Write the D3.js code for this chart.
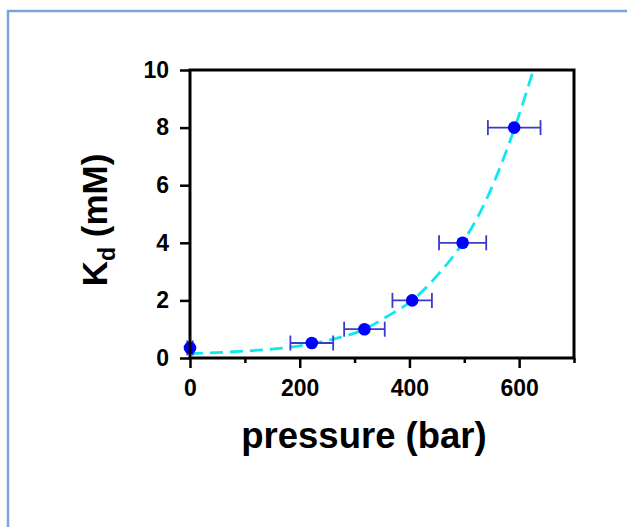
<!DOCTYPE html>
<html>
<head>
<meta charset="utf-8">
<script src="https://cdn.jsdelivr.net/npm/d3@7"></script>
<style>
  body { margin: 0; background: #fff; }
  svg { display: block; font-family: "Liberation Sans", Arial, sans-serif; }
</style>
</head>
<body>
<svg id="chart" width="627" height="527"></svg>
<script>
// measured points
var pressure = [0, 222, 318, 405, 497, 591];
var kd = [0.35, 0.52, 1.0, 2.0, 4.0, 8.0];
var pressureErr = [5, 39, 37, 36, 43, 48];

// fitted curve
var fitPressure = [0, 100, 200, 260, 318, 360, 405, 450, 497, 545, 592, 626];
var fitKd = [0.15, 0.24, 0.42, 0.65, 1.0, 1.45, 2.0, 2.85, 4.0, 5.7, 8.0, 10.0];

var xTicks = [0, 200, 400, 600];
var xMinor = [100, 300, 500, 700];
var yTicks = [0, 2, 4, 6, 8, 10];

var pointColor = "#0000ff";
var errColor = "#3a3acc";
var fitColor = "#10e8f0";

var svg = d3.select("#chart");

// light blue frame round the figure
svg.append("rect")
    .attr("x", 8).attr("y", 11)
    .attr("width", 700).attr("height", 600)
    .attr("fill", "none")
    .attr("stroke", "#78a6dc")
    .attr("stroke-width", 2.5);

var x = d3.scaleLinear().domain([0, 700]).range([190, 574]);
var y = d3.scaleLinear().domain([0, 10]).range([358, 70]);

svg.append("clipPath").attr("id", "plotClip")
    .append("rect")
    .attr("x", x(0)).attr("y", y(10))
    .attr("width", x(700) - x(0)).attr("height", y(0) - y(10));

// fit line
var line = d3.line()
    .x(function (d) { return x(d[0]); })
    .y(function (d) { return y(d[1]); })
    .curve(d3.curveMonotoneX);

svg.append("path")
    .datum(fitPressure.map(function (p, i) { return [p, fitKd[i]]; }))
    .attr("clip-path", "url(#plotClip)")
    .attr("d", line)
    .attr("fill", "none")
    .attr("stroke", fitColor)
    .attr("stroke-width", 2.8)
    .attr("stroke-dasharray", "13,7");

// error bars
var pts = pressure.map(function (p, i) {
    return { p: p, k: kd[i], e: pressureErr[i] };
});

var err = svg.append("g").attr("stroke", errColor).attr("stroke-width", 1.8);
pts.forEach(function (d) {
    var cy = y(d.k);
    err.append("line")
        .attr("x1", x(d.p - d.e)).attr("x2", x(d.p + d.e))
        .attr("y1", cy).attr("y2", cy);
    [d.p - d.e, d.p + d.e].forEach(function (v) {
        err.append("line")
            .attr("x1", x(v)).attr("x2", x(v))
            .attr("y1", cy - 7.5).attr("y2", cy + 7.5);
    });
});

svg.append("g").selectAll("circle")
    .data(pts)
    .enter().append("circle")
    .attr("cx", function (d) { return x(d.p); })
    .attr("cy", function (d) { return y(d.k); })
    .attr("r", 6.3)
    .attr("fill", pointColor);

// axes
var xAxis = d3.axisBottom(x).tickValues(xTicks).tickSize(10).tickPadding(12);
var xAxisMinor = d3.axisBottom(x).tickValues(xMinor).tickSize(5).tickFormat("");
var yAxis = d3.axisLeft(y).tickValues(yTicks).tickSize(10).tickPadding(11);

function styleAxis(g) {
    g.select(".domain").remove();
    g.selectAll("line").attr("stroke", "#000").attr("stroke-width", 2.5);
    g.selectAll("text")
        .attr("fill", "#000")
        .style("font-size", "23px")
        .style("font-weight", "bold");
}

svg.append("g").attr("transform", "translate(0," + y(0) + ")").call(xAxis).call(styleAxis);
svg.append("g").attr("transform", "translate(0," + y(0) + ")").call(xAxisMinor).call(styleAxis);
svg.append("g").attr("transform", "translate(" + x(0) + ",0)").call(yAxis).call(styleAxis);

// box
svg.append("rect")
    .attr("x", x(0)).attr("y", y(10))
    .attr("width", x(700) - x(0)).attr("height", y(0) - y(10))
    .attr("fill", "none")
    .attr("stroke", "#000")
    .attr("stroke-width", 3);

// axis titles
svg.append("text")
    .attr("x", 364).attr("y", 448)
    .attr("text-anchor", "middle")
    .style("font-size", "36.5px")
    .style("font-weight", "bold")
    .text("pressure (bar)");

var yl = svg.append("text")
    .attr("transform", "translate(107,220) rotate(-90)")
    .attr("text-anchor", "middle")
    .style("font-size", "35px")
    .style("font-weight", "bold");
yl.append("tspan").text("K");
yl.append("tspan").attr("dy", 8).style("font-size", "23px").text("d");
yl.append("tspan").attr("dy", -8).text(" (mM)");
</script>
</body>
</html>
